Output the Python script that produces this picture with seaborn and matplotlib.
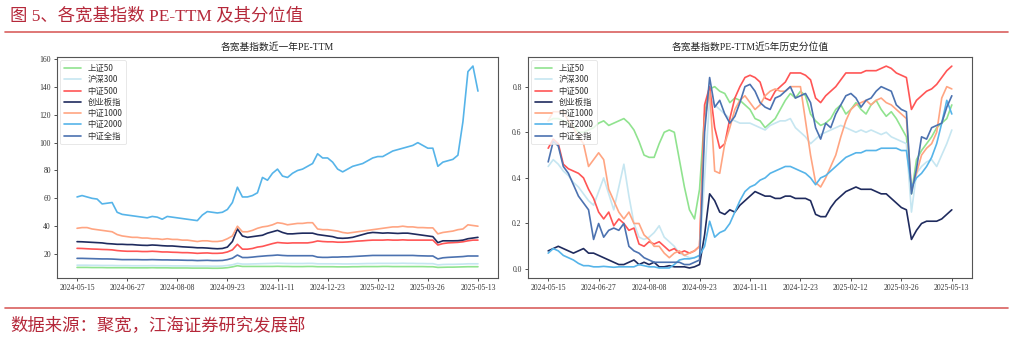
import numpy as np
import pandas as pd
import matplotlib
matplotlib.use('Agg')
import matplotlib.pyplot as plt
from matplotlib.lines import Line2D
import seaborn as sns

# ---------------- data ----------------
series_names = ['上证50', '沪深300', '中证500', '创业板指', '中证1000', '中证2000', '中证全指']
series_colors = ['#90E38F', '#C6E6F1', '#FF5555', '#1F2B5E', '#FFA582', '#56B4E9', '#4C72B0']

tick_labels = ['2024-05-15', '2024-06-27', '2024-08-08', '2024-09-23', '2024-11-11',
               '2024-12-23', '2025-02-12', '2025-03-26', '2025-05-13']
tick_every = 30                      # trading days between labelled ticks
day_idx = list(range(0, 241, 3))     # trading-day index of each sampled value

# left chart: PE-TTM over the last year
pe_sz50 = [10.4, 10.4, 10.4, 10.3, 10.3, 10.3, 10.2, 10.2, 10.2, 10.2,
           10.2, 10.1, 10.1, 10.1, 10.1, 10.2, 10.1, 10.1, 10.1, 10.0,
           10.0, 10.0, 10.0, 9.9, 9.9, 9.9, 9.9, 9.8, 9.8, 9.9,
           10.2, 10.8, 11.6, 11.1, 11.1, 11.1, 11.1, 11.1, 11.1, 11.1,
           11.2, 11.1, 11.1, 11.0, 11.0, 11.0, 11.1, 11.1, 10.9, 10.9,
           10.9, 10.9, 10.8, 10.8, 10.8, 10.9, 10.9, 11.0, 11.0, 11.0,
           11.0, 11.1, 11.1, 11.0, 11.0, 11.0, 11.0, 11.0, 11.0, 11.0,
           10.9, 10.9, 10.4, 10.5, 10.6, 10.6, 10.7, 10.8, 10.9, 10.9,
           10.9]
pe_hs300 = [12.0, 12.0, 12.0, 11.9, 11.9, 11.8, 11.8, 11.8, 11.7, 11.7,
            11.7, 11.6, 11.6, 11.6, 11.6, 11.7, 11.6, 11.6, 11.6, 11.5,
            11.5, 11.5, 11.5, 11.4, 11.4, 11.4, 11.4, 11.3, 11.3, 11.4,
            11.8, 12.3, 13.3, 12.8, 12.8, 12.9, 13.0, 13.1, 13.2, 13.3,
            13.4, 13.3, 13.2, 13.2, 13.2, 13.2, 13.3, 13.3, 13.0, 13.0,
            13.0, 13.0, 13.0, 12.9, 12.9, 13.0, 13.0, 13.1, 13.2, 13.2,
            13.3, 13.3, 13.3, 13.3, 13.3, 13.4, 13.3, 13.3, 13.2, 13.2,
            13.1, 13.1, 12.2, 12.5, 12.6, 12.6, 12.7, 12.8, 13.0, 13.0,
            13.0]
pe_zz500 = [24.1, 24.0, 23.8, 23.6, 23.5, 23.3, 23.2, 23.0, 22.5, 22.2,
            22.0, 22.0, 22.0, 21.8, 21.8, 22.0, 21.8, 21.5, 21.5, 21.3,
            21.2, 21.0, 21.0, 20.8, 20.5, 20.7, 20.8, 20.5, 20.5, 20.7,
            21.5, 23.0, 27.0, 23.5, 23.5, 24.0, 25.0, 25.5, 26.5, 27.5,
            28.3, 28.0, 27.8, 28.0, 28.0, 28.0, 28.0, 28.5, 29.4, 29.0,
            28.8, 28.8, 28.5, 28.5, 28.7, 29.0, 29.3, 29.5, 29.8, 30.0,
            30.0, 30.0, 30.2, 30.0, 30.0, 30.2, 30.0, 30.0, 30.0, 30.0,
            30.0, 30.0, 26.5, 27.5, 28.0, 28.2, 28.4, 28.8, 29.5, 30.0,
            30.0]
pe_cyb = [28.9, 28.8, 28.6, 28.4, 28.2, 28.0, 27.5, 27.3, 27.0, 27.0,
          26.8, 26.8, 26.5, 26.3, 26.2, 26.5, 26.3, 26.0, 25.8, 25.8,
          25.5, 25.2, 25.0, 24.8, 24.5, 24.5, 24.3, 24.0, 23.8, 24.0,
          25.0, 29.0, 38.0, 33.0, 32.0, 32.5, 33.0, 33.5, 35.0, 36.0,
          37.0, 35.5, 34.5, 34.5, 34.8, 35.0, 35.0, 35.0, 34.0, 33.5,
          33.0, 32.5, 31.5, 31.3, 31.5, 32.0, 33.0, 34.0, 35.0, 35.5,
          35.3, 35.0, 35.2, 35.0, 34.8, 35.0, 35.0, 34.5, 34.0, 33.5,
          33.0, 32.5, 28.2, 29.5, 29.5, 29.5, 29.6, 30.0, 31.0, 31.5,
          32.0]
pe_zz1000 = [38.5, 39.0, 39.0, 38.0, 37.5, 37.0, 36.5, 36.0, 34.0, 33.0,
             32.5, 32.0, 32.0, 31.5, 31.5, 31.0, 31.0, 30.5, 31.0, 30.5,
             30.5, 30.0, 30.0, 29.5, 29.0, 29.5, 29.5, 29.0, 29.0, 29.5,
             31.0, 33.0, 40.0, 36.0, 36.0, 37.0, 38.5, 39.5, 40.0, 41.0,
             42.5, 42.0, 41.0, 41.5, 42.0, 42.0, 42.5, 42.5, 38.0, 37.5,
             37.5, 37.0, 36.5, 35.5, 35.0, 35.5, 36.0, 36.5, 37.0, 37.5,
             38.0, 38.5, 39.0, 39.5, 39.5, 40.0, 39.5, 39.5, 39.0, 39.0,
             38.8, 38.8, 34.5, 35.5, 36.0, 36.5, 37.5, 38.0, 41.0, 40.5,
             40.0]
pe_zz2000 = [61, 62, 61, 60, 59.5, 56, 56.5, 57, 50, 48.5,
             48, 47.5, 47, 46.5, 46, 47, 46.5, 45, 47, 46.5,
             46, 45.5, 45, 44.5, 44, 48, 50.5, 50, 49.5, 50,
             52, 57, 68, 61, 61, 62, 64, 75, 73, 78,
             81, 76, 75, 78, 80, 81, 83, 85, 92, 89,
             89, 86, 81, 79, 81, 83, 84, 85, 87, 89,
             90, 90, 92, 94, 95, 96, 97, 98, 100, 98,
             96, 96, 83, 86, 87, 88, 91, 115, 151, 155,
             137]
pe_qz = [16.9, 16.9, 16.8, 16.7, 16.6, 16.5, 16.5, 16.4, 16.2, 16.0,
         16.0, 16.0, 16.0, 15.9, 15.9, 16.0, 15.9, 15.8, 15.8, 15.7,
         15.7, 15.6, 15.5, 15.5, 15.3, 15.4, 15.5, 15.3, 15.3, 15.4,
         16.0, 17.0, 19.3, 17.5, 17.5, 17.8, 18.2, 18.5, 18.8, 19.0,
         19.3, 19.0, 18.8, 18.8, 18.8, 18.8, 18.8, 18.8, 17.8, 17.6,
         17.6, 17.8, 17.8, 18.0, 18.0, 18.2, 18.4, 18.6, 18.8, 19.0,
         19.0, 19.0, 19.0, 19.0, 19.0, 19.0, 19.0, 19.0, 18.8, 18.7,
         18.6, 18.6, 16.5, 17.3, 17.6, 17.8, 18.0, 18.2, 18.6, 18.6,
         18.6]

# right chart: 5-year historical percentile of PE-TTM
pct_sz50 = [.65, .66, .66, .65, .64, .63, .60, .60, .61, .62,
            .64, .65, .63, .64, .65, .66, .64, .61, .56, .50,
            .49, .49, .55, .60, .61, .60, .48, .36, .26, .22,
            .35, .68, .79, .80, .78, .77, .73, .75, .74, .72,
            .70, .66, .65, .62, .64, .66, .70, .74, .77, .75,
            .78, .76, .68, .65, .63, .64, .66, .70, .72, .68,
            .70, .73, .70, .68, .72, .74, .70, .67, .69, .66,
            .62, .58, .33, .48, .52, .55, .58, .62, .64, .66,
            .72]
pct_hs300 = [.45, .48, .46, .43, .41, .38, .36, .33, .30, .28,
             .34, .40, .33, .26, .36, .46, .32, .20, .14, .13,
             .14, .16, .19, .14, .12, .10, .07, .06, .05, .05,
             .06, .40, .75, .72, .70, .68, .66, .65, .64, .64,
             .64, .63, .62, .61, .63, .64, .65, .65, .66, .62,
             .60, .58, .55, .57, .59, .60, .61, .62, .63, .62,
             .61, .60, .61, .60, .61, .60, .59, .60, .58, .57,
             .56, .55, .25, .42, .45, .47, .48, .45, .50, .55,
             .61]
pct_zz500 = [.53, .57, .55, .46, .44, .43, .42, .40, .35, .31,
             .25, .22, .25, .19, .22, .20, .17, .18, .11, .10,
             .12, .11, .12, .10, .08, .09, .07, .08, .07, .08,
             .10, .72, .80, .62, .53, .55, .66, .75, .80, .84,
             .85, .84, .82, .75, .74, .78, .80, .82, .86, .86,
             .86, .85, .83, .75, .73, .76, .78, .80, .83, .86,
             .86, .86, .86, .87, .87, .87, .88, .89, .88, .86,
             .85, .84, .70, .74, .76, .78, .79, .81, .84, .87,
             .89]
pct_cyb = [.08, .09, .10, .09, .08, .07, .08, .09, .07, .07,
           .06, .05, .04, .03, .02, .02, .03, .04, .02, .03,
           .02, .03, .01, .01, .015, .01, .01, .01, .005, .01,
           .02, .15, .33, .30, .25, .24, .26, .25, .28, .30,
           .32, .34, .33, .32, .32, .31, .31, .32, .32, .31,
           .31, .31, .30, .24, .23, .23, .27, .30, .32, .34,
           .35, .36, .35, .35, .35, .34, .33, .33, .31, .29,
           .27, .26, .13, .17, .20, .21, .21, .21, .22, .24,
           .26]
pct_zz1000 = [.65, .69, .69, .69, .65, .62, .58, .55, .45, .48,
              .51, .48, .35, .30, .25, .22, .25, .20, .20, .15,
              .13, .10, .10, .07, .05, .07, .08, .06, .07, .08,
              .10, .65, .78, .43, .42, .55, .62, .70, .74, .76,
              .73, .70, .72, .76, .78, .79, .78, .78, .80, .80,
              .80, .65, .50, .38, .36, .40, .45, .50, .58, .65,
              .70, .72, .73, .74, .72, .74, .75, .73, .72, .70,
              .68, .66, .35, .42, .50, .53, .55, .60, .75, .80,
              .79]
pct_zz2000 = [.07, .09, .08, .06, .05, .04, .025, .015, .015, .01,
              .01, .012, .01, .008, .01, .01, .01, .01, .02, .015,
              .01, .01, .005, .005, .005, .02, .04, .045, .045, .05,
              .06, .10, .21, .14, .16, .17, .20, .25, .30, .34,
              .36, .37, .39, .40, .42, .43, .44, .45, .45, .44,
              .43, .42, .40, .37, .40, .41, .43, .45, .47, .49,
              .50, .51, .51, .52, .52, .52, .53, .53, .53, .53,
              .52, .52, .36, .40, .42, .45, .49, .55, .64, .74,
              .68]
pct_qz = [.47, .56, .54, .45, .42, .37, .32, .29, .26, .13,
          .20, .14, .17, .18, .17, .20, .10, .08, .07, .05,
          .04, .03, .03, .03, .03, .03, .03, .02, .02, .03,
          .04, .60, .84, .71, .74, .68, .64, .67, .73, .80,
          .81, .78, .73, .71, .70, .75, .76, .78, .80, .75,
          .76, .77, .73, .62, .57, .64, .62, .68, .72, .76,
          .77, .75, .71, .74, .75, .78, .80, .79, .78, .72,
          .70, .69, .33, .44, .58, .57, .62, .63, .64, .71,
          .76]

left_series = [pe_sz50, pe_hs300, pe_zz500, pe_cyb, pe_zz1000, pe_zz2000, pe_qz]
right_series = [pct_sz50, pct_hs300, pct_zz500, pct_cyb, pct_zz1000, pct_zz2000, pct_qz]


def long_frame(series_list):
    rows = []
    for name, vals in zip(series_names, series_list):
        for d, v in zip(day_idx, vals):
            rows.append((name, d, v))
    return pd.DataFrame(rows, columns=['指数', 'day', 'value'])


# ---------------- style ----------------
sns.set_theme(style='white')
plt.rcParams['font.family'] = ['Liberation Serif', 'Noto Sans CJK SC']
plt.rcParams['axes.unicode_minus'] = False

W, H = 1013, 339
fig = plt.figure(figsize=(W / 100, H / 100), dpi=100)
fig.patch.set_facecolor('white')

title_red = '#B5283A'
rule_red = '#D9605F'

fig.text(10 / W, 1 - 16 / H, '图 5、各宽基指数 PE-TTM 及其分位值', color=title_red,
         fontsize=12.5, va='center', ha='left',
         family=['Liberation Serif', 'Noto Sans CJK SC'])
fig.add_artist(Line2D([5 / W, 1008 / W], [1 - 32 / H, 1 - 32 / H], color=rule_red, lw=1.2))
fig.add_artist(Line2D([5 / W, 1008 / W], [1 - 307.5 / H, 1 - 307.5 / H], color=rule_red, lw=1.2))
fig.text(10 / W, 1 - 325 / H, '数据来源：聚宽，江海证券研究发展部', color=title_red,
         fontsize=12.5, va='center', ha='left', family=['Noto Sans CJK SC'])

ax_top = 1 - 57 / H
ax_h = (278 - 57) / H
axL = fig.add_axes([57 / W, ax_top - ax_h, (498 - 57) / W, ax_h])
axR = fig.add_axes([528 / W, ax_top - ax_h, (972 - 528) / W, ax_h])

palette = dict(zip(series_names, series_colors))

for ax, data, title in [(axL, left_series, '各宽基指数近一年PE-TTM'),
                        (axR, right_series, '各宽基指数PE-TTM近5年历史分位值')]:
    df = long_frame(data)
    sns.lineplot(data=df, x='day', y='value', hue='指数', hue_order=series_names,
                 palette=palette, linewidth=1.2, ax=ax, errorbar=None, sort=False)
    ax.set_xlabel('')
    ax.set_ylabel('')
    ax.set_xlim(-12, 252)
    ticks = [i * tick_every for i in range(len(tick_labels))]
    ax.set_xticks(ticks)
    ax.set_xticklabels(tick_labels)
    ax.tick_params(axis='both', which='both', labelsize=5.5, length=2.5, width=0.6,
                   direction='out', colors='#333333', pad=2, bottom=True, left=True)
    for lab in ax.get_xticklabels() + ax.get_yticklabels():
        lab.set_family('Liberation Serif')
        lab.set_color('#333333')
    for sp in ax.spines.values():
        sp.set_visible(True)
        sp.set_color('#555555')
        sp.set_linewidth(0.8)
    ax.text(0.5, 1 + 10 / 221, title, transform=ax.transAxes, ha='center', va='center',
            fontsize=7, color='#222222', family=['Liberation Serif', 'Noto Sans CJK SC'])
    leg = ax.legend(loc='upper left', prop={'family': ['Noto Sans CJK SC'], 'size': 6},
                    frameon=True, handlelength=2.0, labelspacing=0.27, borderpad=0.45,
                    handletextpad=0.8, borderaxespad=0.4)
    leg.get_frame().set_edgecolor('#dddddd')
    leg.get_frame().set_linewidth(0.6)
    for t in leg.get_texts():
        t.set_color('#333333')

axL.set_ylim(2.8, 161.5)
axL.set_yticks([20, 40, 60, 80, 100, 120, 140, 160])
axR.set_ylim(-0.039, 0.930)
axR.set_yticks([0.0, 0.2, 0.4, 0.6, 0.8])
axR.set_yticklabels(['0.0', '0.2', '0.4', '0.6', '0.8'])
for lab in axR.get_yticklabels():
    lab.set_family('Liberation Serif')

fig.savefig('out.png', dpi=100)
